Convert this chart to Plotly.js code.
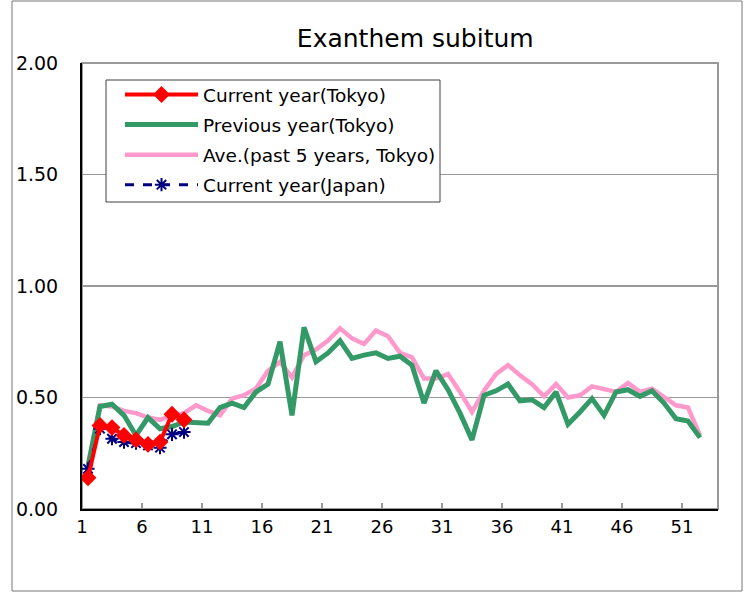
<!DOCTYPE html>
<html>
<head>
<meta charset="utf-8">
<script src="https://cdn.plot.ly/plotly-3.0.1.min.js"></script>
<style>html,body{margin:0;padding:0;background:#fff;}#chart{width:752px;height:593px;}</style>
</head>
<body>
<div id="chart"></div>
<script>
// Weeks 1..52
const weeks = Array.from({length: 52}, (_, i) => i + 1);
const tickWeeks = [1, 6, 11, 16, 21, 26, 31, 36, 41, 46, 51];
const tickLabels = ["1", "6", "11", "16", "21", "26", "31", "36", "41", "46", "51"];

const currentTokyo = [0.14, 0.375, 0.365, 0.33, 0.31, 0.29, 0.30, 0.425, 0.40];
const currentJapan = [0.18, 0.36, 0.315, 0.30, 0.295, 0.285, 0.275, 0.335, 0.345];
const previousTokyo = [
  0.19, 0.46, 0.47, 0.42, 0.33, 0.41, 0.36, 0.37, 0.39, 0.39,
  0.385, 0.455, 0.475, 0.455, 0.525, 0.56, 0.75, 0.42, 0.815, 0.66,
  0.70, 0.755, 0.675, 0.69, 0.70, 0.675, 0.685, 0.645, 0.475, 0.62,
  0.535, 0.43, 0.31, 0.51, 0.53, 0.56, 0.485, 0.49, 0.455, 0.525,
  0.38, 0.435, 0.495, 0.42, 0.525, 0.535, 0.505, 0.53, 0.475, 0.405,
  0.395, 0.32
];
const avg5Tokyo = [
  0.2, 0.465, 0.46, 0.44, 0.43, 0.41, 0.40, 0.42, 0.43, 0.465,
  0.44, 0.42, 0.495, 0.51, 0.54, 0.62, 0.66, 0.59, 0.69, 0.715,
  0.755, 0.81, 0.765, 0.74, 0.80, 0.775, 0.70, 0.68, 0.585, 0.585,
  0.605, 0.525, 0.435, 0.53, 0.605, 0.645, 0.60, 0.56, 0.505, 0.56,
  0.50, 0.51, 0.55, 0.535, 0.525, 0.565, 0.525, 0.54, 0.505, 0.465,
  0.455, 0.33
];

const FONT = "DejaVu Sans, sans-serif";

const traces = [
  {x: weeks, y: avg5Tokyo, name: "Ave.(past 5 years, Tokyo)", type: "scatter", mode: "lines",
   line: {color: "#FF99CC", width: 4.5}, legendrank: 3, legendgroup: "c"},
  {x: weeks, y: previousTokyo, name: "Previous year(Tokyo)", type: "scatter", mode: "lines",
   line: {color: "#339966", width: 5}, legendrank: 2, legendgroup: "b"},
  {x: weeks.slice(0, currentJapan.length), y: currentJapan, name: "Current year(Japan)", type: "scatter", mode: "lines+markers",
   line: {color: "#000080", width: 3, dash: "dash"},
   marker: {symbol: "asterisk-open", size: 11, color: "#000080", line: {color: "#000080", width: 2}},
   legendrank: 4, legendgroup: "d"},
  {x: weeks.slice(0, currentTokyo.length), y: currentTokyo, name: "Current year(Tokyo)", type: "scatter", mode: "lines+markers",
   line: {color: "#FF0000", width: 4},
   marker: {symbol: "diamond", size: 13, color: "#FF0000"},
   legendrank: 1, legendgroup: "a"}
];

const layout = {
  width: 752, height: 593,
  margin: {l: 82, r: 34, t: 63, b: 84},
  paper_bgcolor: "#ffffff", plot_bgcolor: "#ffffff",
  font: {family: FONT, size: 17, color: "#000"},
  title: {text: "Exanthem subitum", font: {family: FONT, size: 25, color: "#000"},
          x: 0.524, xref: "paper", xanchor: "center", y: 1 - 38/593, yref: "container", yanchor: "middle"},
  xaxis: {
    range: [0.5, 53.5], tickmode: "array",
    tickvals: tickWeeks.map(w => w - 0.5), ticktext: tickLabels,
    ticks: "inside", ticklen: 6, tickcolor: "#999", tickwidth: 1.5,
    showgrid: false, zeroline: false,
    showline: true, linecolor: "#000", linewidth: 2,
    tickfont: {family: FONT, size: 18, color: "#000"}, fixedrange: true
  },
  yaxis: {
    range: [0, 2], tickvals: [0, 0.5, 1, 1.5, 2], tickformat: ".2f",
    showgrid: true, gridcolor: "#999", gridwidth: 1.2, zeroline: false,
    showline: true, linecolor: "#000", linewidth: 2, ticks: "",
    ticklabelstandoff: 18,
    tickfont: {family: FONT, size: 19, color: "#000"}, fixedrange: true
  },
  legend: {
    x: (120 - 82) / 636, y: 1 - (76 - 63) / 446, xanchor: "left", yanchor: "top",
    bgcolor: "rgba(0,0,0,0)", borderwidth: 0,
    font: {family: FONT, size: 18.5, color: "#000"},
    traceorder: "grouped", tracegroupgap: 3, itemwidth: 73
  },
  shapes: [
    {type: "rect", xref: "paper", yref: "paper", x0: 0, x1: 1, y0: 0, y1: 1,
     line: {color: "#999", width: 2}, layer: "below"},
    {type: "rect", xref: "paper", yref: "paper",
     x0: (12 - 82) / 636, x1: (742 - 82) / 636, y0: -(591 - 509) / 446, y1: 1 + (63 - 1) / 446,
     line: {color: "#777", width: 1}, layer: "below"},
    {type: "rect", xref: "paper", yref: "paper",
     x0: (106 - 82) / 636, x1: (440 - 82) / 636, y0: 1 - (202 - 63) / 446, y1: 1 - (80 - 63) / 446,
     fillcolor: "#ffffff", line: {color: "#404040", width: 1}, layer: "above"}
  ],
  showlegend: true
};

Plotly.newPlot("chart", traces, layout, {staticPlot: true, displayModeBar: false});
</script>
</body>
</html>
